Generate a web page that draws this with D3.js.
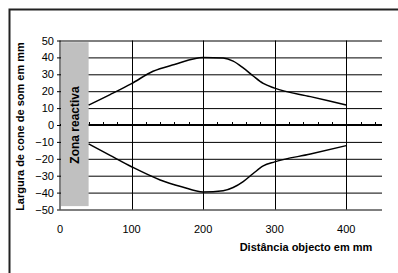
<!DOCTYPE html>
<html>
<head>
<meta charset="utf-8">
<script src="https://cdn.jsdelivr.net/npm/d3@7"></script>
<style>
  body { margin: 0; background: #fff; }
  svg { display: block; font-family: Arial, "Liberation Sans", sans-serif; }
</style>
</head>
<body>
<div id="chart"></div>
<script>
// values
const upperX = [40, 70, 100, 130, 160, 200, 228, 242, 256, 270, 284, 300, 350, 400];
const upperY = [11.8, 18, 24.5, 31.8, 35.8, 40, 39.6, 37.8, 33.8, 29, 24.6, 21.8, 16.8, 11.8];
const lowerX = [40, 70, 100, 140, 170, 200, 228, 242, 256, 270, 284, 300, 350, 400];
const lowerY = [-11.2, -18, -24.7, -32.5, -36.5, -39.6, -38.9, -37, -33.5, -28.7, -24.2, -21.8, -17.2, -12.2];
const xTicks = [0, 100, 200, 300, 400];
const yTicks = [50, 40, 30, 20, 10, 0, -10, -20, -30, -40, -50];
const zone = { from: 0, to: 40, top: 49, bottom: -48, label: "Zona reactiva" };
const xTitle = "Distância objecto em mm";
const yTitle = "Largura de cone de som em mm";

const width = 398;
const height = 273;

const svg = d3
  .select("#chart")
  .append("svg")
  .attr("width", width)
  .attr("height", height);

// outer frame (runs off right and bottom)
svg
  .append("rect")
  .attr("x", 9.5)
  .attr("y", 9.5)
  .attr("width", 420)
  .attr("height", 300)
  .attr("fill", "none")
  .attr("stroke", "#222")
  .attr("stroke-width", 2);

const x = d3.scaleLinear().domain([0, 450]).range([60, 382]);
const y = d3.scaleLinear().domain([-50, 50]).range([209.5, 40.5]);

// horizontal gridlines
svg
  .append("g")
  .attr("transform", `translate(${x(0)},0)`)
  .call(d3.axisLeft(y).tickValues(yTicks).tickSize(-(x(450) - x(0))).tickFormat(""))
  .call((g) => g.select(".domain").remove())
  .selectAll("line")
  .attr("stroke", "#000")
  .attr("stroke-width", 1);

// vertical gridlines
svg
  .append("g")
  .selectAll("line")
  .data(xTicks.filter((d) => d > 0))
  .enter()
  .append("line")
  .attr("x1", (d) => Math.round(x(d)) + 0.5)
  .attr("x2", (d) => Math.round(x(d)) + 0.5)
  .attr("y1", y(50))
  .attr("y2", y(-50))
  .attr("stroke", "#000");

// zero axis with minor ticks
svg
  .append("line")
  .attr("x1", x(0))
  .attr("x2", x(450))
  .attr("y1", y(0))
  .attr("y2", y(0))
  .attr("stroke", "#000")
  .attr("stroke-width", 2);

svg
  .append("g")
  .selectAll("line")
  .data(d3.range(20, 450, 20))
  .enter()
  .append("line")
  .attr("x1", (d) => Math.round(x(d)) + 0.5)
  .attr("x2", (d) => Math.round(x(d)) + 0.5)
  .attr("y1", y(0) - 3)
  .attr("y2", y(0))
  .attr("stroke", "#000");

// reactive zone
svg
  .append("rect")
  .attr("x", x(zone.from) + 1)
  .attr("y", y(zone.top))
  .attr("width", x(zone.to) - x(zone.from) - 1)
  .attr("height", y(zone.bottom) - y(zone.top))
  .attr("fill", "#c0c0c0");

svg
  .append("text")
  .attr("transform", `translate(${(x(zone.from) + x(zone.to)) / 2 + 4.5},${y(0)}) rotate(-90)`)
  .attr("text-anchor", "middle")
  .attr("font-size", "12px")
  .attr("font-weight", "bold")
  .attr("fill", "#000")
  .text(zone.label);

// y axis
const yAxis = svg
  .append("g")
  .attr("transform", `translate(${x(0)},0)`)
  .call(d3.axisLeft(y).tickValues(yTicks).tickSize(3).tickPadding(3));
yAxis.select(".domain").attr("stroke", "#000").attr("d", `M0,${y(50)}V${y(-50)}`);
yAxis.selectAll("text").attr("font-size", "11px").attr("font-family", "Arial, 'Liberation Sans', sans-serif").attr("fill", "#000");

// x tick labels
svg
  .append("g")
  .selectAll("text")
  .data(xTicks)
  .enter()
  .append("text")
  .attr("x", (d) => x(d))
  .attr("y", 233)
  .attr("text-anchor", "middle")
  .attr("font-size", "11px")
  .attr("fill", "#000")
  .text((d) => d);

// curves
const line = d3
  .line()
  .x((d) => x(d[0]))
  .y((d) => y(d[1]))
  .curve(d3.curveMonotoneX);

[d3.zip(upperX, upperY), d3.zip(lowerX, lowerY)].forEach((pts) => {
  svg
    .append("path")
    .datum(pts)
    .attr("fill", "none")
    .attr("stroke", "#000")
    .attr("stroke-width", 1.5)
    .attr("d", line);
});

// titles
svg
  .append("text")
  .attr("x", 306)
  .attr("y", 250.5)
  .attr("text-anchor", "middle")
  .attr("font-size", "11px")
  .attr("font-weight", "bold")
  .text(xTitle);

svg
  .append("text")
  .attr("transform", `translate(24,${y(0) + 1.5}) rotate(-90)`)
  .attr("text-anchor", "middle")
  .attr("font-size", "11px")
  .attr("font-weight", "bold")
  .text(yTitle);
</script>
</body>
</html>
